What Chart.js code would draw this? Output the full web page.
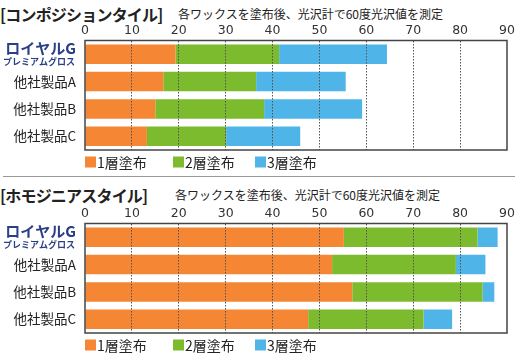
<!DOCTYPE html>
<html><head><meta charset="utf-8">
<script src="https://cdn.jsdelivr.net/npm/chart.js@4/dist/chart.umd.min.js"></script>
<style>
html,body{margin:0;padding:0;background:#fff;}
#wrap{position:relative;width:517px;height:356px;overflow:hidden;font-family:"Noto Sans CJK JP",sans-serif;}
.title{position:absolute;left:0;font-size:16px;font-weight:bold;color:#222;line-height:20px;white-space:nowrap;letter-spacing:-0.8px;}
.sub{position:absolute;font-size:12px;color:#222;line-height:16px;white-space:nowrap;}
.sep{position:absolute;left:3px;width:512px;top:176px;height:1px;background:#999;}
canvas{position:absolute;left:0;}
</style></head>
<body><div id="wrap">
<div class="title" style="top:4px;">[コンポジションタイル]</div>
<div class="sub" style="left:178px;top:6px;">各ワックスを塗布後、光沢計で60度光沢値を測定</div>
<div class="sep"></div>
<div class="title" style="top:185px;">[ホモジニアスタイル]</div>
<div class="sub" style="left:175px;top:187px;">各ワックスを塗布後、光沢計で60度光沢値を測定</div>
<div style="position:absolute;left:0;top:0;width:517px;height:178px;"><canvas id="c1"></canvas></div>
<div style="position:absolute;left:0;top:183px;width:517px;height:173px;"><canvas id="c2"></canvas></div>
</div>
<script>
const categories = ["ロイヤルG", "他社製品A", "他社製品B", "他社製品C"];
const subLabel = "プレミアムグロス";
const seriesNames = ["1層塗布", "2層塗布", "3層塗布"];
const xTicks = [0, 10, 20, 30, 40, 50, 60, 70, 80, 90];

// コンポジションタイル: stacked segments
const compLayer1 = [19.3, 16.7, 15.0, 13.2];
const compLayer2 = [22.1, 19.8, 23.2, 16.9];
const compLayer3 = [23.0, 19.1, 20.9, 15.8];

// ホモジニアスタイル: stacked segments
const homoLayer1 = [55.2, 52.7, 57.0, 47.6];
const homoLayer2 = [28.5, 26.4, 27.8, 24.6];
const homoLayer3 = [4.3, 6.3, 2.5, 6.1];

const colors = ["#F58634", "#7CBB2E", "#4FB5E8"];

const framePlugin = {
  id: 'frameAndLabels',
  afterDraw(chart) {
    const ctx = chart.ctx, a = chart.chartArea, y = chart.scales.y;
    ctx.save();
    ctx.strokeStyle = '#444';
    ctx.lineWidth = 1.5;
    ctx.strokeRect(a.left, a.top, a.right - a.left, a.bottom - a.top);
    ctx.textAlign = 'right';
    ctx.textBaseline = 'middle';
    categories.forEach((c, i) => {
      const py = y.getPixelForTick(i);
      if (i === 0) {
        ctx.fillStyle = '#2B3F87';
        ctx.font = 'bold 15px "Noto Sans CJK JP"';
        ctx.fillText(c, a.left - 9, py - 5.5);
        ctx.font = 'bold 9px "Noto Sans CJK JP"';
        ctx.fillText(subLabel, a.left - 10, py + 7.5);
      } else {
        ctx.fillStyle = '#222';
        ctx.font = '13.5px "Noto Sans CJK JP"';
        ctx.fillText(c, a.left - 9, py);
      }
    });
    const offs = [0, 88, 170];
    const ly = a.bottom + 12;
    ctx.textAlign = 'left';
    ctx.font = '14px "Noto Sans CJK JP"';
    chart.data.datasets.forEach((ds, i) => {
      const lx = a.left + offs[i];
      ctx.fillStyle = ds.backgroundColor;
      ctx.fillRect(lx, ly - 5.5, 11, 11);
      ctx.fillStyle = '#222';
      ctx.fillText(ds.label, lx + 12, ly + 0.5);
    });
    ctx.restore();
  }
};

function makeChart(id, l1, l2, l3, padBottom) {
  return new Chart(document.getElementById(id), {
    type: 'bar',
    data: {
      labels: categories,
      datasets: [
        {label: seriesNames[0], data: l1, backgroundColor: colors[0]},
        {label: seriesNames[1], data: l2, backgroundColor: colors[1]},
        {label: seriesNames[2], data: l3, backgroundColor: colors[2]}
      ]
    },
    options: {
      indexAxis: 'y',
      responsive: true,
      maintainAspectRatio: false,
      animation: false,
      datasets: {bar: {barPercentage: 0.71, categoryPercentage: 1.0, borderWidth: 0}},
      layout: {padding: {left: 85, right: 10, top: 21.5, bottom: padBottom}},
      plugins: {legend: {display: false}, tooltip: {enabled: false}},
      scales: {
        x: {
          position: 'top', stacked: true, min: 0, max: 90,
          afterBuildTicks: s => { s.ticks = xTicks.map(v => ({value: v})); },
          ticks: {color: '#333', font: {family: '"DejaVu Sans"', size: 12.5}, padding: 2, maxRotation: 0},
          grid: {
            z: 1, drawTicks: false,
            color: c => (c.tick && (c.tick.value === 0 || c.tick.value === 90)) ? 'rgba(0,0,0,0)' : '#555',
            lineWidth: 1,
            borderDash: [1.5, 1.5], dash: [1.5, 1.5]
          },
          border: {display: false, dash: [1.5, 1.5]}
        },
        y: {
          stacked: true,
          ticks: {display: false},
          grid: {display: false, drawTicks: false},
          border: {display: false}
        }
      }
    },
    plugins: [framePlugin]
  });
}
makeChart('c1', compLayer1, compLayer2, compLayer3, 28);
makeChart('c2', homoLayer1, homoLayer2, homoLayer3, 23);
</script>
</body></html>
